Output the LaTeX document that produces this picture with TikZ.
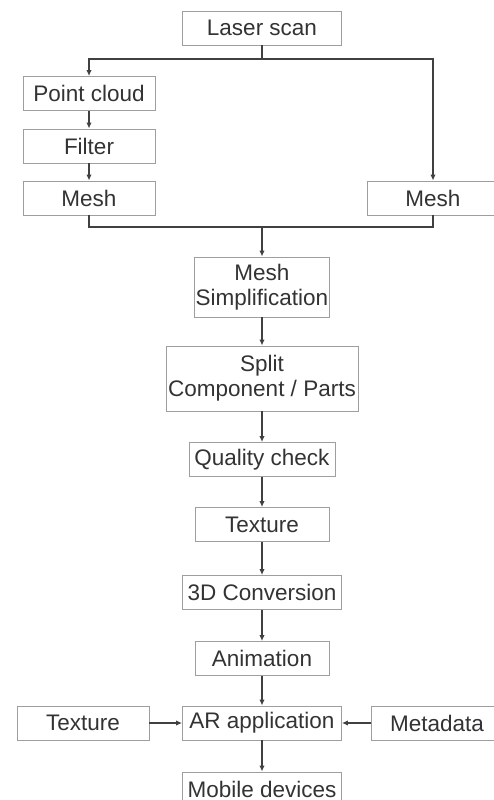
\documentclass[tikz,border=0pt]{standalone}
\usepackage{fontspec}
\setmainfont{Liberation Sans}
\usetikzlibrary{arrows.meta,positioning}

\tikzset{
  box/.style={draw=black!38,line width=0.9pt,fill=white,text=black!80,
    minimum height=34pt,minimum width=132pt,inner sep=1pt,align=center,
    font=\fontsize{22.5}{25}\selectfont},
  arr/.style={draw=black!75,line width=1.5pt,-{Latex[length=6pt,width=5.5pt]}},
  ln/.style={draw=black!75,line width=1.5pt}
}

\begin{document}
\begin{tikzpicture}[x=1pt,y=-1pt]
\clip (0,0) rectangle (494,800);

\node[box,minimum width=159pt] (laser) at (262,28) {Laser scan};
\node[box] (pc) at (89,93.5) {Point cloud};
\node[box] (filter) at (89,146) {Filter};
\node[box] (meshL) at (89,198) {Mesh};
\node[box] (meshR) at (433,198) {Mesh};
\node[box,minimum height=60pt] (simp) at (262,287) {Mesh\\Simplification};
\node[box,minimum width=192pt,minimum height=65pt] (split) at (262,378.5) {Split\\Component / Parts};
\node[box,minimum width=146pt] (qual) at (262,459.5) {Quality check};
\node[box,minimum width=134pt] (tex) at (262,524.5) {Texture};
\node[box,minimum width=159pt] (conv) at (262,592.5) {3D Conversion};
\node[box,minimum width=134pt] (anim) at (262,658.5) {Animation};
\node[box,minimum width=159pt] (ar) at (262,723) {AR application};
\node[box] (texL) at (83,723) {Texture};
\node[box] (meta) at (437,723) {Metadata};
\node[box,minimum width=159pt] (mobile) at (262,789) {Mobile devices};

% branch after the scan
\coordinate (fork) at (262,59);
\draw[ln] (laser) -- (fork);
\draw[arr] (fork) -| (pc);
\draw[arr] (fork) -| (meshR);

% both meshes join again
\coordinate (join) at (262,227);
\draw[ln] (meshL) |- (join) -| (meshR);
\draw[arr] (join) -- (simp);

\foreach \a/\b in {pc/filter,filter/meshL,simp/split,split/qual,qual/tex,tex/conv,conv/anim,anim/ar,ar/mobile}
  \draw[arr] (\a) -- (\b);

\draw[arr] (texL) -- (ar);
\draw[arr] (meta) -- (ar);
\end{tikzpicture}
\end{document}
